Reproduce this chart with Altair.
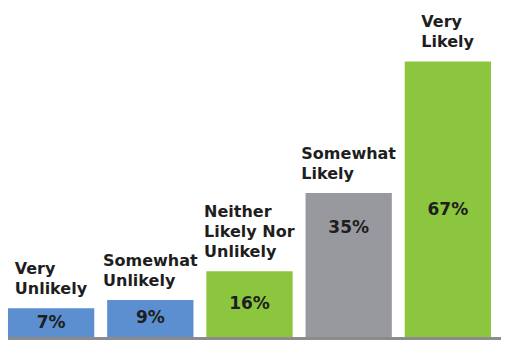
import altair as alt
import pandas as pd

categories = ["Very\nUnlikely", "Somewhat\nUnlikely", "Neither\nLikely Nor\nUnlikely", "Somewhat\nLikely", "Very\nLikely"]
values = [7, 9, 16, 35, 67]
value_labels = ["7%", "9%", "16%", "35%", "67%"]
groups = ["unlikely", "unlikely", "neutral", "somewhat", "likely"]

FONT = "DejaVu Sans"
LABEL_SIZE = 16
LINE_H = 20
W, H = 483, 329
P_INNER = 0.13
STEP = W / (len(categories) - P_INNER)
BAND = STEP * (1 - P_INNER)

# approximate advance widths (em) of DejaVu Sans Bold, used to centre each
# left-aligned label block over its bar
ADV = {"V": .774, "e": .678, "r": .493, "y": .652, "U": .812, "n": .712,
       "l": .343, "i": .343, "k": .665, "S": .720, "o": .687, "m": 1.042,
       "w": .924, "h": .712, "a": .675, "t": .478, "N": .837, "L": .637,
       " ": .348}


def text_w(s):
    return sum(ADV.get(c, .65) for c in s) * LABEL_SIZE


bars_df = pd.DataFrame({
    "order": list(range(len(categories))),
    "value": values,
    "vlabel": value_labels,
    "group": groups,
})

rows = []
for i, (cat, v) in enumerate(zip(categories, values)):
    lines = cat.split("\n")
    block = max(text_w(l) for l in lines)
    for j, line in enumerate(lines):
        rows.append({"order": i, "value": v, "line": line,
                     "from_bottom": len(lines) - 1 - j,
                     "xoff": BAND / 2 - block / 2})
lab_df = pd.DataFrame(rows)

x_scale = alt.Scale(paddingInner=P_INNER, paddingOuter=0)
x_enc = alt.X("order:O", axis=None, scale=x_scale)
y_scale = alt.Scale(domain=[0, 80])
y_enc = alt.Y("value:Q", axis=None, scale=y_scale)

color_scale = alt.Scale(
    domain=["unlikely", "neutral", "somewhat", "likely"],
    range=["#5b8fcf", "#8cc63f", "#98999e", "#8cc63f"],
)

bars = alt.Chart(bars_df).mark_bar().encode(
    x=x_enc, y=y_enc,
    color=alt.Color("group:N", scale=color_scale, legend=None),
)

label_layers = []
for k in range(3):
    label_layers.append(
        alt.Chart(lab_df).transform_filter(f"datum.from_bottom == {k}").mark_text(
            align="left", baseline="alphabetic", dy=-14 - k * LINE_H,
            font=FONT, fontSize=LABEL_SIZE, fontWeight="bold", color="#1e1e1e",
        ).encode(
            x=x_enc, y=y_enc,
            xOffset=alt.XOffset("xoff:Q", scale=None),
            text="line:N",
        )
    )

val_text = alt.Chart(bars_df).transform_calculate(
    ly="min(max(datum.value / 2, datum.value - 8.5), 31)"
).mark_text(
    align="center", baseline="middle",
    font=FONT, fontSize=17, fontWeight="bold", color="#1e1e1e",
).encode(
    x=x_enc,
    y=alt.Y("ly:Q", axis=None, scale=y_scale),
    text="vlabel:N",
)

baseline = alt.Chart(bars_df).mark_rule(color="#8a8a8a", strokeWidth=2).encode(
    x=alt.value(0), x2=alt.value(W + 10), y=alt.value(H + 1.5),
)

chart = alt.layer(bars, val_text, *label_layers, baseline).properties(
    width=W, height=H,
    padding={"left": 0, "top": 0, "right": 10, "bottom": 3},
    autosize=alt.AutoSizeParams(type="none"),
    background="white",
).configure_view(stroke=None)

chart.save("out.html", embed_options={"renderer": "svg", "actions": False})
